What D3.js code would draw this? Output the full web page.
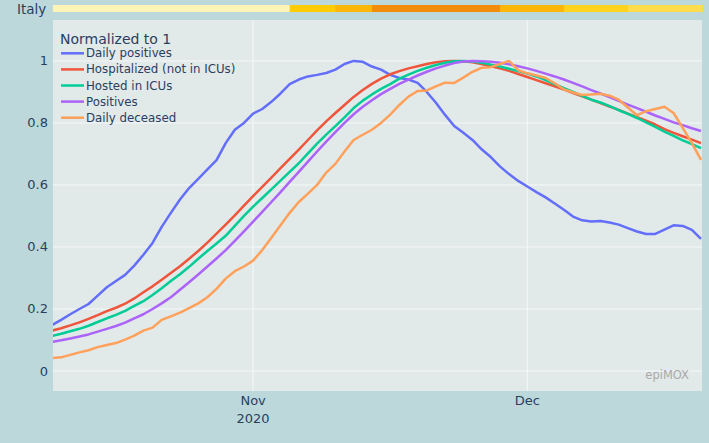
<!DOCTYPE html>
<html>
<head>
<meta charset="utf-8">
<script src="https://cdn.jsdelivr.net/npm/d3@7"></script>
<style>
  body { margin: 0; background: #bdd8db; }
  svg { display: block; font-family: "DejaVu Sans", Verdana, sans-serif; }
  .grid line { stroke: #f4f7f7; stroke-width: 1; }
  .line { fill: none; stroke-width: 2.5; stroke-linejoin: round; }
</style>
</head>
<body>
<svg id="chart" width="709" height="443"></svg>
<script>
// Italy, Oct 10 - Dec 20 2020, each series normalized to its max
const startDate = new Date(2020, 9, 10);
const dates = d3.range(72).map(i => d3.timeDay.offset(startDate, i));

const dailyPositives = [
  0.148, 0.165, 0.183, 0.200, 0.216, 0.243, 0.270, 0.290, 0.310, 0.340,
  0.375, 0.413, 0.465, 0.510, 0.553, 0.590, 0.620, 0.650, 0.680, 0.735,
  0.778, 0.800, 0.830, 0.845, 0.868, 0.895, 0.925, 0.940, 0.950, 0.955,
  0.961, 0.972, 0.990, 1.000, 0.997, 0.982, 0.972, 0.955, 0.945, 0.940,
  0.929, 0.900, 0.865, 0.826, 0.790, 0.768, 0.745, 0.715, 0.690, 0.660,
  0.635, 0.613, 0.595, 0.577, 0.560, 0.540, 0.520, 0.498, 0.486, 0.482,
  0.484, 0.479, 0.472, 0.461, 0.450, 0.442, 0.442, 0.456, 0.470, 0.468,
  0.455, 0.426
];
const hospitalized = [
  0.130, 0.138, 0.147, 0.157, 0.168, 0.180, 0.193, 0.204, 0.217, 0.234,
  0.254, 0.273, 0.294, 0.316, 0.338, 0.362, 0.387, 0.414, 0.443, 0.472,
  0.502, 0.533, 0.564, 0.594, 0.624, 0.654, 0.684, 0.714, 0.745, 0.776,
  0.805, 0.832, 0.858, 0.884, 0.906, 0.926, 0.943, 0.957, 0.967, 0.976,
  0.983, 0.990, 0.996, 0.999, 1.000, 0.999, 0.996, 0.990, 0.983, 0.976,
  0.968, 0.958, 0.948, 0.938, 0.928, 0.918, 0.908, 0.896, 0.886, 0.875,
  0.864, 0.853, 0.842, 0.830, 0.819, 0.807, 0.795, 0.780, 0.768, 0.757,
  0.746, 0.735
];
const icu = [
  0.113, 0.120, 0.128, 0.136, 0.146, 0.158, 0.170, 0.181, 0.194, 0.210,
  0.225, 0.245, 0.267, 0.290, 0.312, 0.336, 0.362, 0.387, 0.411, 0.436,
  0.468, 0.500, 0.530, 0.558, 0.586, 0.614, 0.642, 0.670, 0.702, 0.733,
  0.762, 0.790, 0.818, 0.848, 0.872, 0.892, 0.910, 0.925, 0.943, 0.956,
  0.968, 0.978, 0.987, 0.994, 0.999, 1.000, 0.998, 0.994, 0.988, 0.982,
  0.975, 0.967, 0.959, 0.950, 0.938, 0.925, 0.912, 0.900, 0.887, 0.875,
  0.866, 0.854, 0.841, 0.829, 0.816, 0.802, 0.787, 0.772, 0.758, 0.744,
  0.732, 0.719
];
const positives = [
  0.094, 0.099, 0.105, 0.111, 0.118, 0.127, 0.136, 0.145, 0.156, 0.170,
  0.183, 0.200, 0.218, 0.238, 0.262, 0.286, 0.311, 0.337, 0.363, 0.390,
  0.420, 0.450, 0.482, 0.513, 0.545, 0.577, 0.610, 0.642, 0.675, 0.708,
  0.740, 0.770, 0.800, 0.828, 0.852, 0.873, 0.893, 0.910, 0.926, 0.940,
  0.953, 0.965, 0.976, 0.985, 0.993, 0.998, 1.000, 0.999, 0.997, 0.994,
  0.989, 0.983, 0.976, 0.968, 0.959, 0.950, 0.940, 0.929, 0.918, 0.906,
  0.895, 0.883, 0.871, 0.859, 0.848, 0.836, 0.824, 0.813, 0.802, 0.793,
  0.783, 0.774
];
const dailyDeceased = [
  0.042, 0.044, 0.052, 0.060, 0.067, 0.077, 0.084, 0.090, 0.101, 0.114,
  0.130, 0.140, 0.165, 0.176, 0.188, 0.203, 0.218, 0.238, 0.265, 0.298,
  0.322, 0.337, 0.356, 0.390, 0.430, 0.470, 0.510, 0.545, 0.572, 0.600,
  0.640, 0.668, 0.708, 0.745, 0.762, 0.778, 0.800, 0.827, 0.858, 0.885,
  0.903, 0.905, 0.918, 0.930, 0.929, 0.946, 0.965, 0.978, 0.980, 0.990,
  1.000, 0.970, 0.960, 0.953, 0.945, 0.928, 0.908, 0.898, 0.890, 0.892,
  0.894, 0.888, 0.875, 0.850, 0.825, 0.838, 0.845, 0.852, 0.832, 0.784,
  0.735, 0.681
];

const seriesNames = ['Daily positives', 'Hospitalized (not in ICUs)', 'Hosted in ICUs', 'Positives', 'Daily deceased'];
const seriesValues = [dailyPositives, hospitalized, icu, positives, dailyDeceased];
const seriesColors = ['#636efa', '#ef553b', '#00cc96', '#ab63fa', '#ffa15a'];

// regional risk zone colours shown in the strip on top
const zoneStarts = ['2020-10-10', '2020-11-05', '2020-11-10', '2020-11-14', '2020-11-28', '2020-12-05', '2020-12-12', '2020-12-20'];
const zoneColors = ['#fff4b6', '#ffcb05', '#fcb60a', '#f28c0a', '#fcb60a', '#ffd21e', '#ffdc4c'];

const yTicks = [0, 0.2, 0.4, 0.6, 0.8, 1];

const svg = d3.select('#chart');
const margin = {left: 53, right: 701, top: 20, bottom: 391};

const x = d3.scaleTime()
    .domain(d3.extent(dates))
    .range([margin.left - 1, margin.right]);

const y = d3.scaleLinear()
    .domain([-0.0645, 1.132])
    .range([margin.bottom, margin.top]);

// top strip
svg.append('text')
    .attr('x', 17).attr('y', 14)
    .attr('font-size', 13.5).attr('fill', '#2a3f5f')
    .text('Italy');

const parseDay = d3.timeParse('%Y-%m-%d');
svg.append('g').selectAll('rect')
    .data(zoneColors)
    .enter().append('rect')
    .attr('x', (c, i) => x(parseDay(zoneStarts[i])) + (i === 0 ? 1 : 0))
    .attr('width', (c, i) => x(parseDay(zoneStarts[i + 1])) - x(parseDay(zoneStarts[i])) + (i === zoneColors.length - 1 ? 2 : 0.5))
    .attr('y', 5).attr('height', 7)
    .attr('fill', c => c);

// plot background
svg.append('rect')
    .attr('x', margin.left).attr('y', margin.top)
    .attr('width', margin.right - margin.left + 1)
    .attr('height', margin.bottom - margin.top)
    .attr('fill', '#e2e9e9');

// grid
const grid = svg.append('g').attr('class', 'grid');
grid.selectAll('.hy')
    .data(yTicks)
    .enter().append('line')
    .attr('x1', margin.left).attr('x2', margin.right + 1)
    .attr('y1', d => y(d)).attr('y2', d => y(d))
    .attr('stroke-width', d => d === 0 ? 2 : 1);

const xTicks = [new Date(2020, 10, 1), new Date(2020, 11, 1)];
grid.selectAll('.vx')
    .data(xTicks)
    .enter().append('line')
    .attr('x1', d => x(d)).attr('x2', d => x(d))
    .attr('y1', margin.top).attr('y2', margin.bottom);

// axes labels
svg.append('g').selectAll('text')
    .data(yTicks)
    .enter().append('text')
    .attr('x', 48).attr('y', d => y(d) + 4.5)
    .attr('text-anchor', 'end')
    .attr('font-size', 13).attr('fill', '#2a3f5f')
    .text(d => d3.format('~g')(d));

const xl = svg.append('g').selectAll('text')
    .data(xTicks)
    .enter().append('text')
    .attr('x', d => x(d)).attr('y', 405)
    .attr('text-anchor', 'middle')
    .attr('font-size', 13).attr('fill', '#2a3f5f');
xl.append('tspan').text(d => d3.timeFormat('%b')(d));
xl.filter((d, i) => i === 0).append('tspan')
    .attr('x', d => x(d)).attr('dy', 18).text(d => d3.timeFormat('%Y')(d));

// lines
svg.append('clipPath').attr('id', 'clip')
    .append('rect')
    .attr('x', margin.left).attr('y', margin.top)
    .attr('width', margin.right - margin.left + 1)
    .attr('height', margin.bottom - margin.top);

const line = d3.line()
    .x((v, i) => x(dates[i]))
    .y(v => y(v));

const lines = svg.append('g').attr('clip-path', 'url(#clip)');
seriesValues.forEach((vals, k) => {
    lines.append('path')
        .datum(vals)
        .attr('class', 'line')
        .attr('d', line)
        .style('stroke', seriesColors[k]);
});

// legend
const legend = svg.append('g');
legend.append('text')
    .attr('x', 60).attr('y', 44)
    .attr('font-size', 14).attr('fill', '#2a3f5f')
    .text('Normalized to 1');

seriesNames.forEach((name, i) => {
    const row = legend.append('g')
        .attr('transform', `translate(0, ${53.3 + i * 16.1})`);
    row.append('line')
        .attr('x1', 61).attr('x2', 84)
        .attr('stroke', seriesColors[i]).attr('stroke-width', 2.5);
    row.append('text')
        .attr('x', 86).attr('y', 4)
        .attr('font-size', 11.8).attr('fill', '#2a3f5f')
        .text(name);
});

// watermark
svg.append('text')
    .attr('x', 689).attr('y', 379)
    .attr('text-anchor', 'end')
    .attr('font-size', 11.5).attr('fill', '#aaaaaa')
    .text('epiMOX');
</script>
</body>
</html>
